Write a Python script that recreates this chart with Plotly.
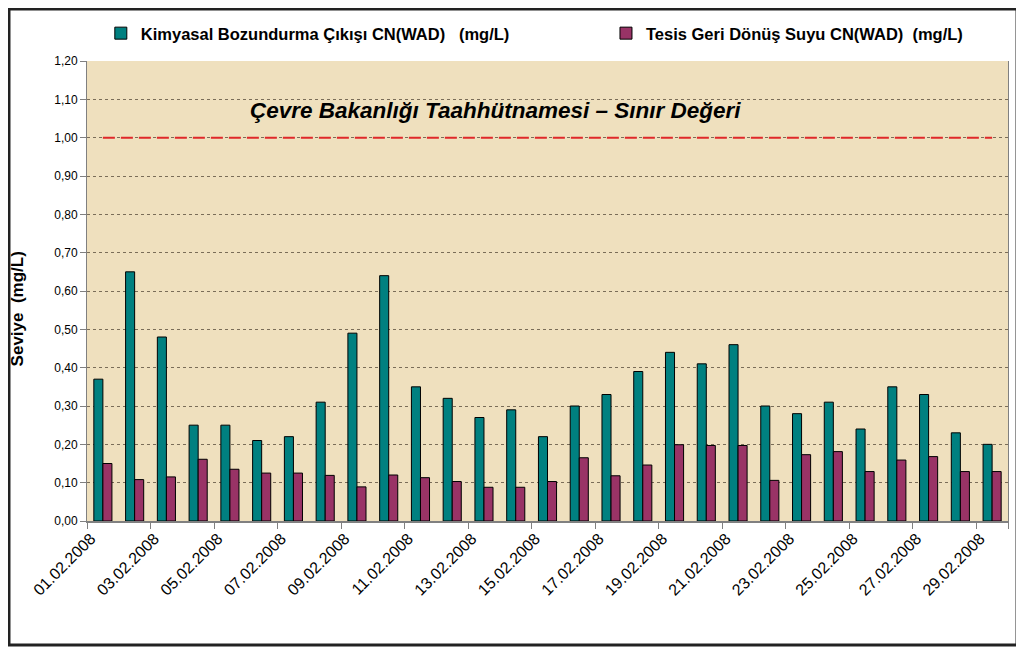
import plotly.graph_objects as go

dates = ["%02d.02.2008" % d for d in range(1, 30)]
kimyasal = [0.37, 0.65, 0.48, 0.25, 0.25, 0.21, 0.22, 0.31, 0.49, 0.64,
            0.35, 0.32, 0.27, 0.29, 0.22, 0.30, 0.33, 0.39, 0.44, 0.41,
            0.46, 0.30, 0.28, 0.31, 0.24, 0.35, 0.33, 0.23, 0.20]
tesis = [0.15, 0.108, 0.115, 0.161, 0.135, 0.125, 0.125, 0.119, 0.089, 0.12,
         0.113, 0.103, 0.088, 0.088, 0.103, 0.165, 0.118, 0.146, 0.199, 0.197,
         0.197, 0.106, 0.173, 0.181, 0.129, 0.159, 0.168, 0.129, 0.129]
limit = 1.00
limit_text = "Çevre Bakanlığı Taahhütnamesi – Sınır Değeri"
y_title = "Seviye\u00a0\u00a0(mg/L)"
name1 = "<b>Kimyasal Bozundurma Çıkışı CN(WAD)\u00a0\u00a0\u00a0(mg/L)</b>"
name2 = "<b>Tesis Geri Dönüş Suyu CN(WAD)\u00a0\u00a0(mg/L)</b>"
yticks = [0.0, 0.1, 0.2, 0.3, 0.4, 0.5, 0.6, 0.7, 0.8, 0.9, 1.0, 1.1, 1.2]

FONT = "Liberation Sans, Arial, sans-serif"

fig = go.Figure()
fig.add_trace(go.Bar(x=dates, y=kimyasal, name=name1, legend="legend",
                     marker=dict(color="#008080", line=dict(color="#000000", width=1))))
fig.add_trace(go.Bar(x=dates, y=tesis, name=name2, legend="legend2",
                     marker=dict(color="#993366", line=dict(color="#000000", width=1))))
fig.add_trace(go.Scatter(x=[dates[0], dates[-1]], y=[limit, limit], mode="lines",
                         line=dict(color="#E0282A", width=2, dash="12px,6px"),
                         showlegend=False, hoverinfo="skip"))

fig.add_annotation(text="<b><i>" + limit_text + "</i></b>", xref="paper", yref="y",
                   x=0.444, y=1.07, showarrow=False,
                   font=dict(family=FONT, size=22.5, color="#000000"))

fig.add_annotation(text="<b>" + y_title + "</b>", xref="paper", yref="paper",
                   x=-0.088, y=0.461, textangle=-90, showarrow=False,
                   font=dict(family=FONT, size=17, color="#000000"))

# outer frame
fig.add_shape(type="rect", xref="paper", yref="paper",
              x0=-0.0847, x1=1.0098, y0=-0.2696, y1=1.113,
              line=dict(color="#222222", width=3), layer="below")

legend_common = dict(orientation="h", xanchor="left", yanchor="top",
                     font=dict(family=FONT, size=16.5, color="#000000"),
                     bgcolor="rgba(0,0,0,0)", itemwidth=30)

fig.update_layout(
    width=1016, height=641,
    margin=dict(l=79, r=16, t=53, b=128, autoexpand=False),
    paper_bgcolor="#FFFFFF",
    plot_bgcolor="#EFE0BE",
    separators=",.",
    barmode="group",
    bargap=0.43, bargroupgap=0.0,
    font=dict(family=FONT, color="#000000"),
    legend=dict(x=0.015, y=1.098, **legend_common),
    legend2=dict(x=0.5635, y=1.098, **legend_common),
    xaxis=dict(type="category", tickvals=dates[::2], ticktext=dates[::2],
               tickson="boundaries", ticks="outside", ticklen=6, tickcolor="#808080",
               tickangle=-45, tickfont=dict(family=FONT, size=16, color="#000000"),
               ticklabelshift=-12,
               showline=True, linecolor="#808080", linewidth=2, showgrid=False,
               range=[-0.5, 28.5], automargin=False),
    yaxis=dict(range=[0, 1.2], tickvals=yticks, tickformat=".2f",
               ticks="outside", ticklen=6, tickcolor="#808080",
               tickfont=dict(family=FONT, size=12, color="#000000"),
               showline=True, linecolor="#808080", linewidth=1, mirror=True,
               showgrid=True, gridcolor="#7A6D58", gridwidth=1, griddash="dot",
               zeroline=False, automargin=False),
)

fig.write_html("out.html")
